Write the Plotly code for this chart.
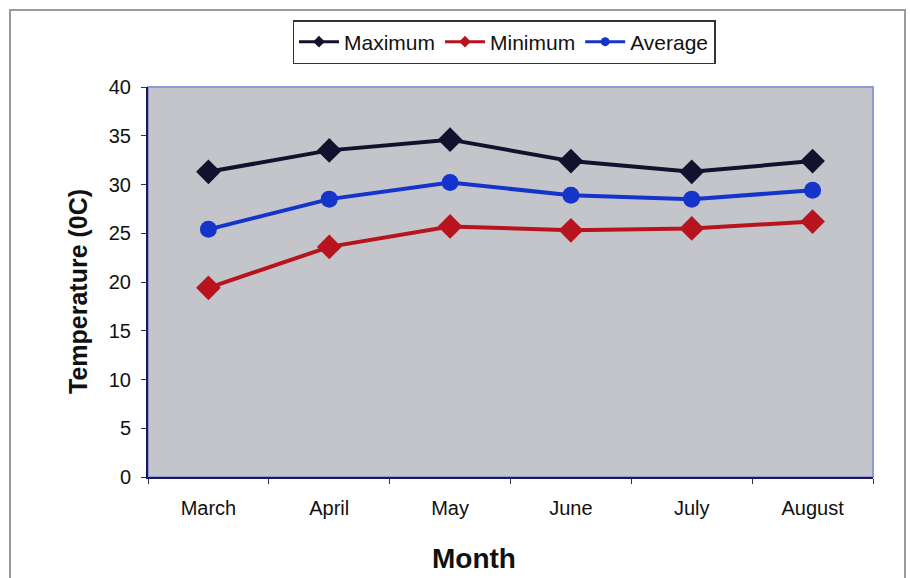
import plotly.graph_objects as go

months = ["March", "April", "May", "June", "July", "August"]
maximum = [31.3, 33.5, 34.6, 32.4, 31.3, 32.4]
minimum = [19.4, 23.6, 25.7, 25.3, 25.5, 26.2]
average = [25.4, 28.5, 30.2, 28.9, 28.5, 29.4]

y_ticks = [0, 5, 10, 15, 20, 25, 30, 35, 40]

FONT = "Liberation Sans, Arial, sans-serif"

series = [
    ("Maximum", maximum, "#12122e", "diamond", 19),
    ("Minimum", minimum, "#b8141e", "diamond", 19),
    ("Average", average, "#1434cc", "circle", 17),
]

fig = go.Figure()
for name, values, color, symbol, size in series:
    fig.add_trace(go.Scatter(
        x=months, y=values, name=name, mode="lines+markers",
        line=dict(color=color, width=4),
        marker=dict(symbol=symbol, size=size, color=color),
        showlegend=False,
    ))
# Legend entries with the smaller marker style
for name, values, color, symbol, size in series:
    fig.add_trace(go.Scatter(
        x=[months[0]], y=[None], name=name, mode="lines+markers",
        line=dict(color=color, width=3),
        marker=dict(symbol=symbol, size=9, color=color),
    ))

L, R, T, B = 148, 873, 87, 477
W, H = 910, 578


def px(x):
    return (x - L) / (R - L)


def py(y):
    return (B - y) / (B - T)


fig.update_layout(
    width=W, height=H,
    margin=dict(l=L, r=W - R, t=T, b=H - B),
    paper_bgcolor="white",
    plot_bgcolor="#c4c5ca",
    font=dict(family=FONT, color="#111111"),
    showlegend=True,
    legend=dict(
        orientation="h", x=px(504), xanchor="center", y=py(20), yanchor="top",
        bordercolor="#333333", borderwidth=1.5, bgcolor="white",
        font=dict(size=21, family=FONT), itemwidth=40,
        tracegroupgap=0,
    ),
    xaxis=dict(
        type="category", range=[-0.5, 5.5], tickson="boundaries",
        ticks="outside", ticklen=5, tickcolor="#333344",
        showline=True, linecolor="#1a1a50", linewidth=2,
        showgrid=False, tickfont=dict(size=20), ticklabelstandoff=12,
    ),
    yaxis=dict(
        range=[0, 40], tickvals=y_ticks, ticks="outside", ticklen=5,
        tickcolor="#333344", showline=True, linecolor="#1a1a50", linewidth=2,
        showgrid=False, zeroline=False, tickfont=dict(size=20),
        ticklabelstandoff=6,
    ),
    annotations=[
        dict(text="<b>Month</b>", xref="paper", yref="paper",
             x=px(474), y=py(558), xanchor="center", yanchor="middle",
             showarrow=False, font=dict(size=28)),
        dict(text="<b>Temperature (0C)</b>", xref="paper", yref="paper",
             x=px(78), y=py(292), xanchor="center", yanchor="middle",
             textangle=-90, showarrow=False, font=dict(size=25)),
    ],
    shapes=[
        dict(type="rect", xref="paper", yref="paper",
             x0=px(10), x1=px(905), y0=py(592), y1=py(10),
             line=dict(color="#9a9a9a", width=2), layer="below"),
        dict(type="rect", xref="paper", yref="paper",
             x0=0, x1=1, y0=0, y1=1,
             line=dict(color="#8f9ad8", width=2), layer="below"),
    ],
)

fig.write_html("out.html")
